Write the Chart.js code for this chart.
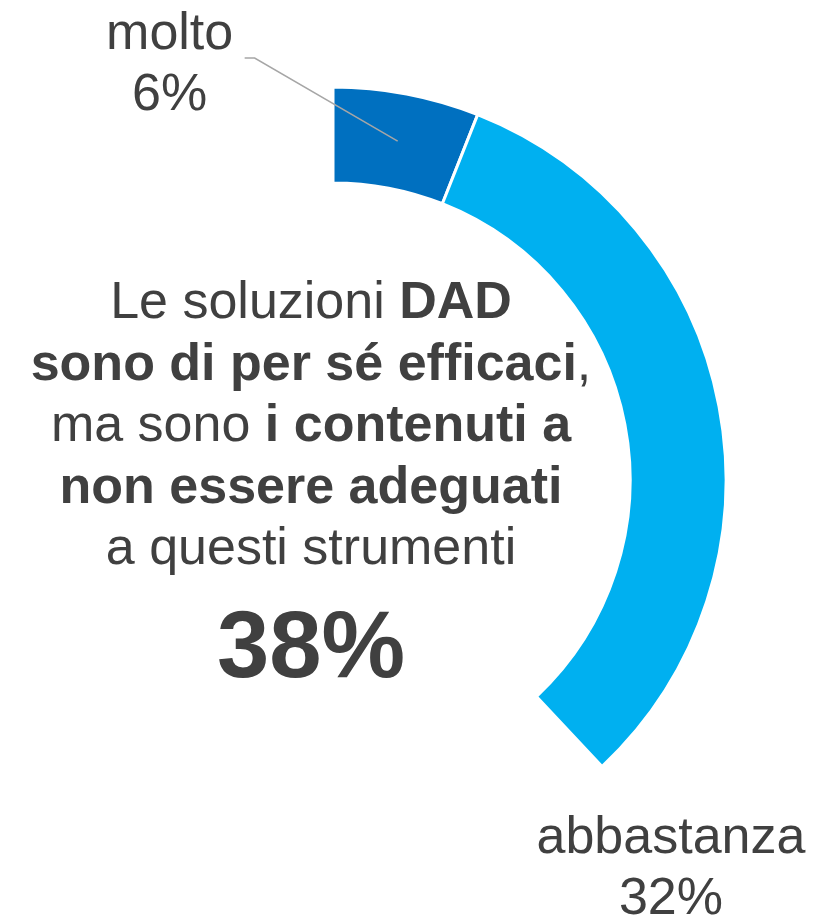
<!DOCTYPE html>
<html>
<head>
<meta charset="utf-8">
<script src="https://cdn.jsdelivr.net/npm/chart.js@4/dist/chart.umd.min.js"></script>
<style>
  html, body { margin: 0; padding: 0; background: #fff; }
  #wrap { position: relative; width: 813px; height: 919px; }
</style>
</head>
<body>
<div id="wrap"><canvas id="dadChart"></canvas></div>
<script>
// chart values
const categories = ['molto', 'abbastanza', ''];
const values = [6, 32, 62];
const sliceColors = ['#0070C0', '#00B0F0', 'rgba(0,0,0,0)'];
const totalLabel = '38%';

// central text, each line made of [text, bold] pieces
const centerLines = [
    [['Le soluzioni ', false], ['DAD', true]],
    [['sono di per sé efficaci', true], [',', false]],
    [['ma sono ', false], ['i contenuti a', true]],
    [['non essere adeguati', true]],
    [['a questi strumenti', false]]
];

const FONT = '"Liberation Sans", Arial, sans-serif';
const TEXT = '#404040';

const labelsPlugin = {
    id: 'dadLabels',
    afterDraw(chart) {
        const ctx = chart.ctx;
        const arcs = chart.getDatasetMeta(0).data;
        const cx = arcs[0].x, cy = arcs[0].y;
        ctx.save();
        ctx.fillStyle = TEXT;
        ctx.textBaseline = 'alphabetic';

        // centre block
        const textX = cx - 22;
        let y = cy - 162;
        centerLines.forEach(line => {
            let w = 0;
            line.forEach(([t, b]) => {
                ctx.font = (b ? 'bold ' : '') + '52px ' + FONT;
                w += ctx.measureText(t).width;
            });
            let x = textX - w / 2;
            ctx.textAlign = 'left';
            line.forEach(([t, b]) => {
                ctx.font = (b ? 'bold ' : '') + '52px ' + FONT;
                ctx.fillText(t, x, y);
                x += ctx.measureText(t).width;
            });
            y += 61.5;
        });
        ctx.textAlign = 'center';
        ctx.font = 'bold 94px ' + FONT;
        ctx.fillText(totalLabel, textX, cy + 197);

        // molto label with leader line
        const p0 = arcs[0].tooltipPosition();
        ctx.strokeStyle = '#A6A6A6';
        ctx.lineWidth = 1.5;
        ctx.beginPath();
        ctx.moveTo(p0.x, p0.y);
        ctx.lineTo(p0.x - 143, p0.y - 83);
        ctx.lineTo(p0.x - 153, p0.y - 83);
        ctx.stroke();
        ctx.font = '52px ' + FONT;
        ctx.fillText(categories[0], p0.x - 228, p0.y - 92);
        ctx.fillText(values[0] + '%', p0.x - 228, p0.y - 31);

        // abbastanza label
        const p1 = arcs[1].tooltipPosition();
        ctx.fillText(categories[1], p1.x - 1, p1.y + 438);
        ctx.fillText(values[1] + '%', p1.x - 1, p1.y + 499);
        ctx.restore();
    }
};

new Chart(document.getElementById('dadChart').getContext('2d'), {
    type: 'doughnut',
    data: {
        labels: categories,
        datasets: [{
            data: values,
            backgroundColor: sliceColors,
            borderColor: '#FFFFFF',
            borderWidth: [3, 3, 0],
            hoverOffset: 0
        }]
    },
    options: {
        responsive: true,
        maintainAspectRatio: false,
        animation: false,
        radius: 393,
        cutout: '75.6%',
        layout: { padding: { left: 0, right: 147, top: 41, bottom: 0 } },
        plugins: {
            legend: { display: false },
            tooltip: { enabled: false }
        }
    },
    plugins: [labelsPlugin]
});
</script>
</body>
</html>
